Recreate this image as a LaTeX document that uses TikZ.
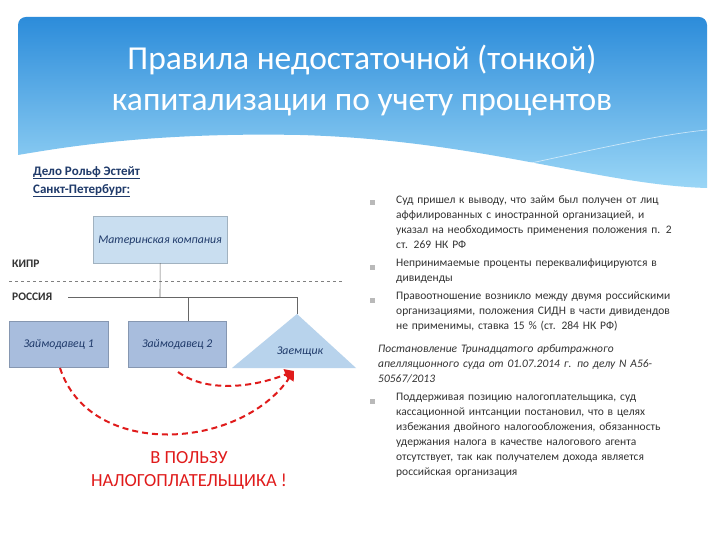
\documentclass[tikz,border=0pt]{standalone}
\usepackage{fontspec}
\setmainfont{Carlito}
\usetikzlibrary{arrows.meta}
\definecolor{bltop}{HTML}{2C8CDA}
\definecolor{blbot}{HTML}{9AD6F6}
\definecolor{txt}{HTML}{333333}
\definecolor{hdr}{HTML}{1F3A6A}
\definecolor{boxa}{HTML}{C9DEF0}
\definecolor{boxb}{HTML}{A8BDDD}
\definecolor{tri}{HTML}{B8D3EC}
\definecolor{arr}{HTML}{E01B1B}
\tikzset{
  bul/.style={anchor=north west,inner sep=0pt,text width=330pt,align=left,font=\fontsize{11.5}{15}\selectfont,text=txt},
  sq/.style={fill=gray!55,minimum size=5pt,inner sep=0pt},
  org/.style={draw=#1!80!black,fill=#1,inner sep=0pt,font=\itshape\fontsize{11.8}{13}\selectfont,text=hdr},
  lbl/.style={inner sep=0pt,font=\itshape\fontsize{11.8}{13}\selectfont,text=hdr},
  conn/.style={draw=gray!80!black,line width=0.6pt},
  redarr/.style={draw=arr,line width=2pt,dash pattern=on 6pt off 4pt,-{Triangle[length=9pt,width=11pt]}}
}
\begin{document}
\begin{tikzpicture}[x=1pt,y=-1pt]
\useasboundingbox (0,0) rectangle (720,540);
\fill[white] (0,0) rectangle (720,540);
% banner
\shade[top color=bltop,bottom color=blbot]
 (18,25) to[out=90,in=180] (26,17) -- (699,17) to[out=0,in=90] (707,25) -- (707,188)
 .. controls (600,185) and (480,140) .. (300,135)
 .. controls (150,132) and (60,148) .. (18,155) -- cycle;
\draw[white,opacity=0.6,line width=0.7pt] (230,137) .. controls (350,130) and (450,150) .. (520,175);
\draw[white,opacity=0.6,line width=0.7pt] (450,180) .. controls (550,160) and (650,135) .. (707,130);
\node[text=white,align=center,font=\fontsize{33.5}{41}\selectfont] (title) at (362,80)
 {Правила недостаточной (тонкой)\\капитализации по учету процентов};
% left header
\node[anchor=north west,inner sep=0pt,align=left,text=hdr,font=\bfseries\fontsize{13}{18}\selectfont] (case) at (33,166)
 {\underline{Дело Рольф Эстейт}\\\underline{Санкт-Петербург:}};
% org chart
\node[org=boxa,minimum width=134pt,minimum height=47pt,anchor=north west] (mother) at (93,216) {};
\node[lbl] (mtxt) at (160,241) {Материнская компания};
\node[anchor=west,inner sep=0pt,font=\bfseries\fontsize{11.5}{12}\selectfont,text=txt] (cy) at (12,264) {КИПР};
\node[anchor=west,inner sep=0pt,font=\bfseries\fontsize{11.5}{12}\selectfont,text=txt] (ru) at (12,297) {РОССИЯ};
\coordinate (d1) at (9,281); \coordinate (d2) at (344,281);
\draw[gray,dashed,line width=0.5pt] (d1) -- (d2);
\node[org=boxb,minimum width=99pt,minimum height=46pt,anchor=north west] (l1) at (9,321) {Займодавец 1};
\node[org=boxb,minimum width=98pt,minimum height=46pt,anchor=north west] (l2) at (128,321) {Займодавец 2};
\coordinate (apex) at (297,314);
\fill[tri] (apex) -- (356,368) -- (232,368) -- cycle;
\node[lbl] (bor) at (300,352) {Заемщик};
\coordinate (bus1) at (68,297); \coordinate (bus2) at (297,297);
\coordinate (j2) at (188,297);
\draw[conn] (bus1) -- (bus2);
\draw[conn] (mother.south) -- (160,297);
\draw[conn] (j2) -- (188,321);
\draw[conn] (bus2) -- (apex);
% red arrows
\coordinate (tgt) at (294,371);
\draw[redarr] (60,368) .. controls (90,460) and (240,450) .. (tgt);
\draw[redarr] (178,372) .. controls (210,395) and (260,385) .. (tgt);
\node[text=arr,align=center,font=\fontsize{18.5}{23}\selectfont] (fav) at (189,470) {В ПОЛЬЗУ\\НАЛОГОПЛАТЕЛЬЩИКА !};
% right text
\node[sq] (s1) at (372,203) {};
\node[bul] (b1) at (396,195) {Суд пришел к выводу, что займ был получен от лиц\\аффилированных с иностранной организацией, и\\указал на необходимость применения положения п. 2\\ст. 269 НК РФ};
\node[sq] (s2) at (372,267) {};
\node[bul] (b2) at (396,259) {Непринимаемые проценты переквалифицируются в\\дивиденды};
\node[sq] (s3) at (372,300) {};
\node[bul] (b3) at (396,292) {Правоотношение возникло между двумя российскими\\организациями, положения СИДН в части дивидендов\\не применимы, ставка 15 \% (ст. 284 НК РФ)};
\node[bul,font=\itshape\fontsize{11.5}{15}\selectfont] (court) at (378,344) {Постановление Тринадцатого арбитражного\\апелляционного суда от 01.07.2014 г. по делу N А56-\\50567/2013};
\node[sq] (s4) at (372,401) {};
\node[bul] (b4) at (396,393) {Поддерживая позицию налогоплательщика, суд\\кассационной интсанции постановил, что в целях\\избежания двойного налогообложения, обязанность\\удержания налога в качестве налогового агента\\отсутствует, так как получателем дохода является\\российская организация};
\end{tikzpicture}
\end{document}
